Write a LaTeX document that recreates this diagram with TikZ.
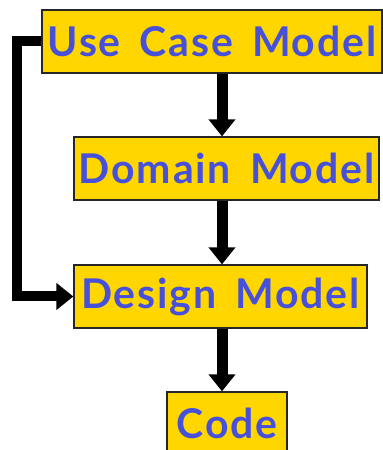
\documentclass[tikz,border=0pt]{standalone}
\usepackage{fontspec}
\setmainfont{Lato}
\newfontfamily\boxfont[LetterSpace=4.5, WordSpace=1.6]{Lato Bold}
\usetikzlibrary{arrows.meta}
\definecolor{boxfill}{RGB}{255,214,0}
\definecolor{labelblue}{RGB}{70,80,218}

\begin{document}
\begin{tikzpicture}[x=1pt, y=1pt,
        model/.style={fill=boxfill, draw=black!85, line width=1.3pt, minimum height=63pt, inner sep=0pt, text=labelblue, font=\boxfont\fontsize{41}{44}\selectfont},
        flow/.style={line width=11pt, -{Triangle[width=26pt, length=17pt]}}]
    \useasboundingbox (0,0) rectangle (383,450);
    \coordinate (spine) at (222,0);
    \node[model, minimum width=340pt] (usecase) at (212,408.5) {Use Case Model};
    \node[model, minimum width=305pt] (domain) at (226.5,281.5) {Domain Model};
    \node[model, minimum width=293pt] (design) at (220.5,153.5) {Design Model};
    \node[model, minimum width=120pt] (code) at (227,26.5) {Code};
    % main chain
    \draw[flow] (usecase.south -| spine) -- (domain.north -| spine);
    \draw[flow] (domain.south -| spine) -- (design.north -| spine);
    \draw[flow] (design.south -| spine) -- (code.north -| spine);
    % shortcut on the left
    \draw[flow, line width=10pt] (usecase.west) -- ++(-24,0) |- (design.west);
\end{tikzpicture}
\end{document}
